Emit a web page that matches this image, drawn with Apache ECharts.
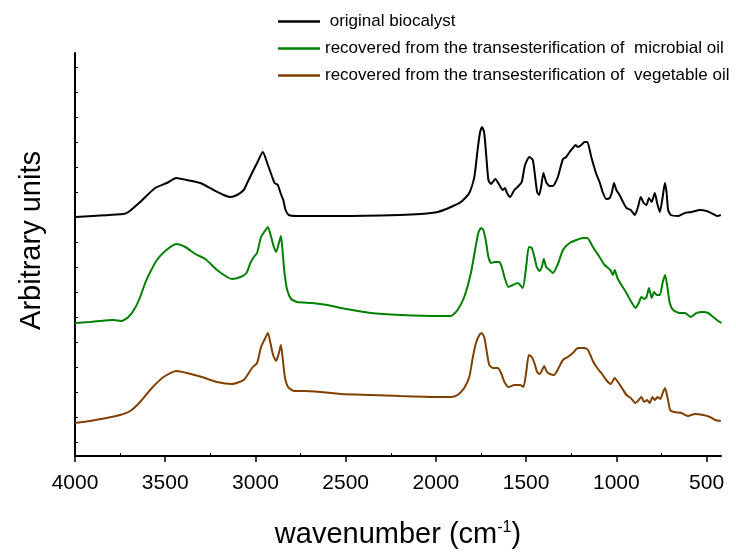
<!DOCTYPE html>
<html>
<head>
<meta charset="utf-8">
<script src="https://cdn.jsdelivr.net/npm/echarts@6/dist/echarts.min.js"></script>
<style>
  html, body { margin: 0; padding: 0; background: #fff; }
  #ftirChart { width: 736px; height: 553px; }
</style>
</head>
<body>
<div id="ftirChart"></div>
<script>
// values (wavenumber, arbitrary units)
const seriesNames = [
  " original biocalyst",
  "recovered from the transesterification of  microbial oil",
  "recovered from the transesterification of  vegetable oil"
];
const seriesColors = ["#000000", "#008000", "#804000"];

const xTicks = [4000, 3500, 3000, 2500, 2000, 1500, 1000, 500];
const xMinorTicks = [3750, 3250, 2750, 2250, 1750, 1250, 750];
const yTicks = [13.7, 38.7, 63.7, 88.7, 113.7, 138.7, 163.7, 188.7, 213.7, 238.7, 263.7, 288.7, 313.7, 338.7, 363.7, 388.7];

const origWn = [4000, 3732, 3704, 3639, 3556, 3491, 3439, 3380, 3306, 3232, 3176, 3139, 3102, 3065, 3046, 3019, 2991, 2959, 2935, 2907, 2894, 2876, 2861, 2846, 2833, 2815, 2768, 2528, 2200, 2083, 1990, 1917, 1861, 1815, 1787, 1769, 1756, 1744, 1733, 1722, 1709, 1694, 1671, 1648, 1630, 1617, 1606, 1589, 1565, 1537, 1524, 1506, 1482, 1463, 1450, 1439, 1428, 1417, 1404, 1389, 1370, 1352, 1324, 1296, 1278, 1259, 1241, 1226, 1213, 1194, 1176, 1161, 1139, 1111, 1093, 1074, 1056, 1037, 1024, 1013, 1000, 982, 963, 944, 920, 898, 880, 865, 848, 833, 819, 804, 787, 774, 759, 744, 731, 722, 713, 698, 657, 620, 583, 537, 500, 463, 439, 421];
const origVal = [239, 242, 244, 254, 268, 273, 278, 276, 273, 266, 261, 259, 261, 266, 273, 283, 293, 304, 293, 279, 273, 271, 263, 256, 246, 241, 240, 240, 241, 242, 244, 249, 254, 263, 279, 306, 323, 329, 324, 303, 276, 272, 277, 271, 266, 268, 263, 259, 266, 271, 274, 291, 299, 296, 279, 264, 261, 269, 283, 274, 270, 270, 279, 297, 299, 304, 308, 311, 309, 311, 314, 314, 299, 282, 274, 263, 257, 258, 264, 273, 266, 261, 254, 248, 246, 241, 249, 259, 253, 251, 258, 254, 263, 253, 244, 258, 273, 264, 246, 241, 240, 243, 244, 246, 245, 242, 240, 241];

const microWn = [4000, 3917, 3787, 3741, 3704, 3667, 3639, 3611, 3583, 3546, 3500, 3439, 3389, 3333, 3278, 3213, 3157, 3130, 3083, 3050, 3028, 3009, 2991, 2969, 2944, 2931, 2913, 2898, 2885, 2870, 2859, 2850, 2839, 2824, 2802, 2769, 2685, 2602, 2528, 2361, 2194, 1972, 1917, 1880, 1843, 1806, 1783, 1765, 1750, 1737, 1722, 1709, 1694, 1676, 1648, 1635, 1620, 1598, 1574, 1546, 1519, 1500, 1485, 1469, 1454, 1441, 1426, 1413, 1402, 1389, 1370, 1352, 1324, 1296, 1259, 1222, 1185, 1161, 1130, 1093, 1065, 1033, 1019, 1009, 994, 972, 944, 917, 894, 876, 861, 846, 833, 819, 804, 791, 776, 759, 744, 730, 717, 704, 685, 649, 620, 587, 556, 519, 491, 463, 435, 417];
const microVal = [133, 134, 136, 135, 139, 148, 159, 173, 184, 196, 205, 212, 209, 202, 197, 186, 179, 177, 179, 183, 193, 199, 203, 219, 226, 229, 219, 209, 204, 213, 220, 206, 183, 166, 157, 154, 153, 151, 148, 143, 141, 140, 140, 146, 159, 183, 206, 223, 228, 226, 214, 199, 193, 194, 194, 189, 179, 169, 171, 173, 168, 189, 209, 208, 199, 189, 185, 189, 197, 189, 186, 183, 192, 206, 213, 216, 218, 218, 209, 199, 191, 186, 181, 186, 178, 171, 163, 154, 148, 153, 159, 157, 159, 168, 158, 164, 161, 161, 173, 181, 169, 153, 146, 143, 143, 139, 143, 144, 143, 139, 135, 133];

const vegWn = [4000, 3917, 3824, 3750, 3694, 3639, 3574, 3509, 3439, 3380, 3296, 3213, 3130, 3065, 3019, 2991, 2969, 2948, 2931, 2917, 2902, 2885, 2870, 2859, 2848, 2837, 2819, 2787, 2731, 2639, 2528, 2361, 2194, 1972, 1917, 1880, 1843, 1815, 1796, 1778, 1759, 1746, 1731, 1717, 1704, 1685, 1657, 1639, 1620, 1598, 1565, 1532, 1515, 1500, 1485, 1469, 1454, 1439, 1424, 1411, 1400, 1385, 1367, 1346, 1320, 1296, 1269, 1241, 1213, 1176, 1157, 1130, 1106, 1083, 1056, 1031, 1009, 991, 969, 944, 920, 894, 876, 861, 846, 829, 815, 800, 787, 772, 757, 743, 730, 717, 702, 680, 639, 602, 565, 519, 481, 452, 421];
const vegVal = [33, 35, 38, 41, 45, 54, 68, 79, 85, 83, 79, 74, 72, 76, 88, 93, 109, 117, 123, 113, 101, 95, 103, 111, 96, 79, 69, 65, 65, 64, 62, 61, 60, 59, 59, 61, 68, 79, 98, 113, 121, 123, 118, 103, 91, 88, 88, 83, 74, 69, 71, 71, 69, 83, 101, 99, 93, 84, 82, 86, 90, 84, 82, 81, 88, 96, 99, 103, 108, 108, 106, 95, 88, 83, 76, 72, 78, 74, 68, 61, 58, 53, 56, 59, 54, 56, 53, 59, 56, 59, 57, 63, 68, 59, 46, 44, 43, 40, 42, 41, 39, 36, 35];

const wnLists = [origWn, microWn, vegWn];
const valLists = [origVal, microVal, vegVal];

let mychart = echarts.init(document.getElementById("ftirChart"));

const textFont = "Liberation Sans, Arial, sans-serif";

const option = {
  animation: false,
  grid: {
    left: 75,
    right: 15,
    top: 53,
    bottom: 97,
    containLabel: false,
    outerBoundsMode: "none"
  },
  legend: {
    orient: "vertical",
    left: 278,
    top: 13,
    padding: 0,
    icon: "rect",
    itemWidth: 42,
    itemHeight: 2.5,
    itemGap: 10,
    textStyle: {
      fontFamily: textFont,
      fontSize: 17,
      color: "#000"
    },
    data: seriesNames
  },
  xAxis: [
    {
      type: "value",
      inverse: true,
      min: 420,
      max: 4000,
      name: "{a|wavenumber (cm}{s|-1}{a|)}",
      nameLocation: "middle",
      nameGap: 64,
      nameTextStyle: {
        rich: {
          a: { fontFamily: textFont, fontSize: 29, color: "#000" },
          s: { fontFamily: textFont, fontSize: 16, color: "#000", verticalAlign: "top", padding: [0, 0, 12, 0] }
        }
      },
      axisLine: { show: true, onZero: false, lineStyle: { color: "#000", width: 2 } },
      axisTick: { show: true, inside: false, length: 6, lineStyle: { color: "#000", width: 1.5 }, customValues: xTicks },
      axisLabel: {
        customValues: xTicks,
        formatter: v => String(v),
        margin: 17,
        fontFamily: textFont,
        fontSize: 21,
        color: "#000"
      },
      splitLine: { show: false }
    },
    {
      type: "value",
      inverse: true,
      min: 420,
      max: 4000,
      position: "bottom",
      axisLine: { show: false },
      axisTick: { show: true, inside: true, length: 3, lineStyle: { color: "#000", width: 1 }, customValues: xMinorTicks },
      axisLabel: { show: false },
      splitLine: { show: false }
    }
  ],
  yAxis: {
    type: "value",
    min: 0,
    max: 403,
    name: "Arbitrary units",
    nameLocation: "middle",
    nameGap: 29,
    nameTextStyle: {
      fontFamily: textFont,
      fontSize: 29,
      color: "#000",
      padding: [0, 0, 0, 28]
    },
    axisLine: { show: true, lineStyle: { color: "#000", width: 2 } },
    axisTick: { show: true, inside: true, length: 3, lineStyle: { color: "#000", width: 1 }, customValues: yTicks },
    axisLabel: { show: false },
    splitLine: { show: false }
  },
  series: seriesNames.map((name, i) => ({
    name: name,
    type: "line",
    symbol: "none",
    smooth: 0.2,
    color: seriesColors[i],
    lineStyle: { color: seriesColors[i], width: 2 },
    data: wnLists[i].map((w, k) => [w, valLists[i][k]])
  }))
};
mychart.setOption(option);
</script>
</body>
</html>
